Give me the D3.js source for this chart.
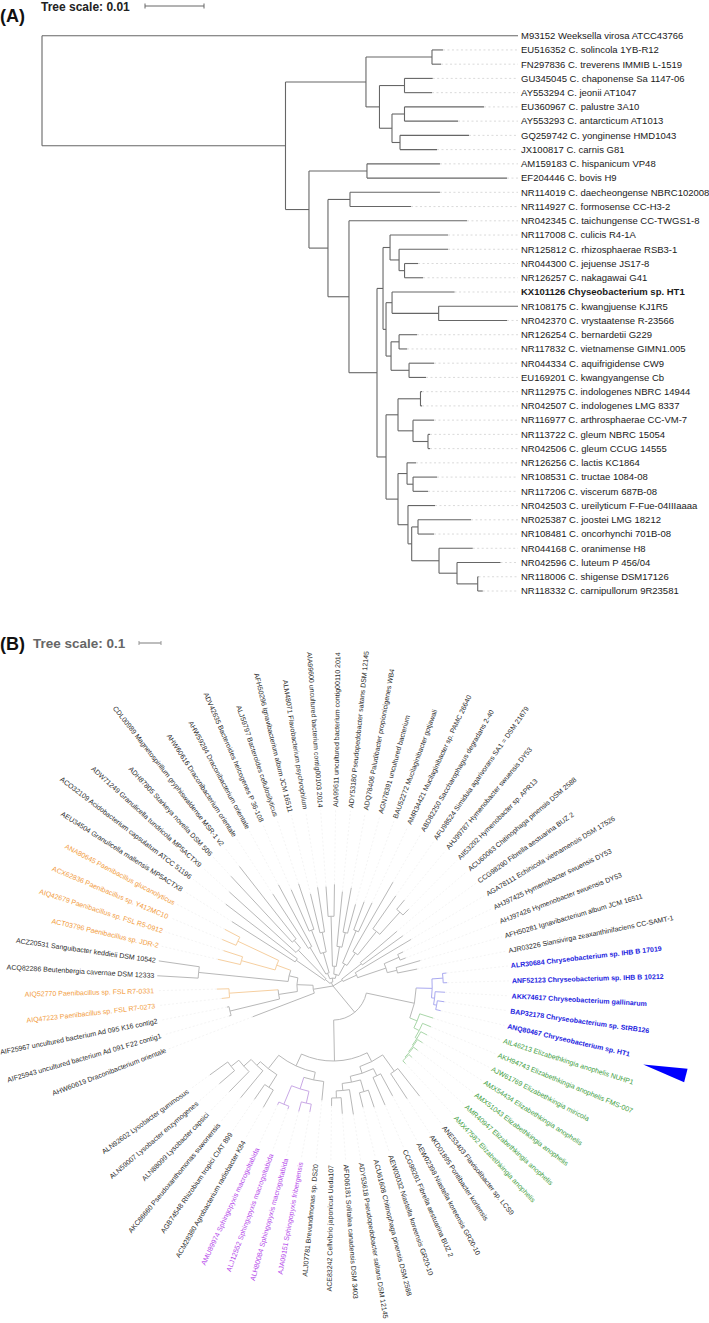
<!DOCTYPE html>
<html><head><meta charset="utf-8">
<script src="https://cdn.jsdelivr.net/npm/d3@7"></script>
<style>body{margin:0;background:#fff;} text{font-family:"Liberation Sans",Arial,sans-serif;}</style>
</head><body>
<svg id="c" width="709" height="1323"></svg>
<script>
// ---------------- DATA ----------------
// Panel A: 16S tree, branch lengths in substitutions/site
const newickA = `(M93152_Weeksella_virosa_ATCC43766:0.08068,
(((EU516352_C._solincola_1YB-R12:0.00186,FN297836_C._treverens_IMMIB_L-1519:0.00153):0.01119,
((GU345045_C._chaponense_Sa_1147-06:0.00478,AY553294_C._jeonii_AT1047:0.00466):0.00424,
((EU360967_C._palustre_3A10:0.01347,AY553293_C._antarcticum_AT1013:0.00907):0.00212,
(GQ259742_C._yonginense_HMD1043:0.01169,JX100817_C._carnis_G81:0.00627):0.00136):0.00212):0.00229):0.01364,
((AM159183_C._hispanicum_VP48:0.01237,EF204446_C._bovis_H9:0.02373):0.00983,
((NR114019_C._daecheongense_NBRC102008:0.01525,NR114927_C._formosense_CC-H3-2:0.01034):0.00373,
(NR042345_C._taichungense_CC-TWGS1-8:0.02,
(((NR117008_C._culicis_R4-1A:0.00983,(NR125812_C._rhizosphaerae_RSB3-1:0.0083,(NR044300_C._jejuense_JS17-8:0.00229,NR126257_C._nakagawai_G41:0.00314):0.00093):0.00153):0.00119,
((KX101126_Chyseobacterium_sp._HT1:0.01059,(NR108175_C._kwangjuense_KJ1R5:0.01346,NR042370_C._vrystaatense_R-23566:0.01159):0.0079):0.00102,
((NR126254_C._bernardetii_G229:0.00305,NR117832_C._vietnamense_GIMN1.005:0.00136):0.00136,
(NR044334_C._aquifrigidense_CW9:0.00424,EU169201_C._kwangyangense_Cb:0.00288):0.00305):0.00085):0.00051):0.00102,
(((NR112975_C._indologenes_NBRC_14944:0.00025,NR042507_C._indologenes_LMG_8337:0.00025):0.00381,
(NR116977_C._arthrosphaerae_CC-VM-7:0.00356,(NR113722_C._gleum_NBRC_15054:0.00034,NR042506_C._gleum_CCUG_14555:0.00034):0.00254):0.00254):0.00203,
((NR126256_C._lactis_KC1864:0.00153,(NR108531_C._tructae_1084-08:0.00407,NR117206_C._viscerum_687B-08:0.00254):0.00102):0.00153,
(NR042503_C._ureilyticum_F-Fue-04IIIaaaa:0.00458,
((NR025387_C._joostei_LMG_18212:0.00898,NR108481_C._oncorhynchi_701B-08:0.00271):0.00107,
(NR044168_C._oranimense_H8:0.00571,(NR042596_C._luteum_P_456/04:0.00737,(NR118006_C._shigense_DSM17126:0.00014,NR118332_C._carnipullorum_9R23581:0.00085):0.00351):0.00305):0.00463):0.00063):0.00169):0.00203):0.00153):0.00475):0.00356):0.00322):0.00398):0.04127);`;
const boldA = ["KX101126"];
const scaleA = 0.01;

// Panel B: protein tree, branch lengths in substitutions/site
const newickB = `((AHW60619_Draconibacterium_orientale:0.300,
(((AIF25943_uncultured_bacterium_Ad_091_F22_contig1:0.009,AIF25967_uncultured_bacterium_Ad_095_K16_contig2:0.009):0.232,
(AIQ47223_Paenibacillus_sp._FSL_R7-0273:0.036,AIQ52770_Paenibacillus_sp._FSL_R7-0331:0.055):0.223):0.086,
((ACQ82286_Beutenbergia_cavernae_DSM_12333:0.186,ACZ20531_Sanguibacter_keddieii_DSM_10542:0.186):0.409,
((ACT03796_Paenibacillus_sp._JDR-2:0.105,AIQ42679_Paenibacillus_sp._FSL_R5-0912:0.091):0.159,
(ACX62836_Paenibacillus_sp._Y412MC10:0.068,ANA80645_Paenibacillus_glucanolyticus:0.077):0.205):0.068):0.041):0.073):0.091,
(((AEU34504_Granulicella_mallensis_MP5ACTX8:0.341,ACO32109_Acidobacterium_capsulatum_ATCC_51196:0.409):0.159,
(ADW71249_Granulicella_tundricola_MP5ACTX9:0.409,(ADH87805_Starkeya_novella_DSM_506:0.409,CDL00989_Magnetospirillum_gryphiswaldense_MSR-1_v2:0.418):0.045):0.182):0.027,
(((AHW60616_Draconibacterium_orientale:0.295,AHW59284_Draconibacterium_orientale:0.318):0.141,
((ADV42635_Bacteroides_helcogenes_P_36-108:0.205,ALJ59797_Bacteroides_cellulosilyticus:0.218):0.114,
(AFH50296_Ignavibacterium_album_JCM_16511:0.182,ALM48071_Flavobacterium_psychrophilum:0.205):0.091):0.095):0.027,
(((AIA99600_uncultured_bacterium_contig00103_2014:0.136,AIA99611_uncultured_bacterium_contig00110_2014:0.145):0.227,
(ADY53180_Pseudopedobacter_saltans_DSM_12145:0.250,(ADQ78406_Paludibacter_propionicigenes_WB4:0.205,AGN78391_uncultured_bacterium:0.136):0.068):0.091):0.036,
((BAU52272_Mucilaginibacter_gotjawali:0.136,AMR34421_Mucilaginibacter_sp._PAMC_26640:0.145):0.159,
(ABD82250_Saccharophagus_degradans_2-40:0.364,(AFU98524_Simiduia_agarivorans_SA1_=_DSM_21679:0.182,
(AHJ99787_Hymenobacter_swuensis_DY53:0.055,AII53292_Hymenobacter_sp._APR13:0.036):0.136):0.136):0.068):0.059):0.018):0.018):0.018,
(((ACU60063_Chitinophaga_pinensis_DSM_2588:0.218,CCG98290_Fibrella_aestuarina_BUZ_2:0.227):0.114,
(AGA78111_Echinicola_vietnamensis_DSM_17526:0.295,((AHJ97425_Hymenobacter_swuensis_DY53:0.027,AHJ97426_Hymenobacter_swuensis_DY53:0.027):0.073,
(AFH50281_Ignavibacterium_album_JCM_16511:0.114,AJR03226_Siansivirga_zeaxanthinifaciens_CC-SAMT-1:0.091):0.045):0.136):0.068):0.050,
(((((ALR30684_Chryseobacterium_sp._IHB_B_17019:0.018,ANF52123_Chryseobacterium_sp._IHB_B_10212:0.018):0.050,
(AKK74617_Chryseobacterium_gallinarum:0.045,(BAP32178_Chryseobacterium_sp._StRB126:0.032,ANQ80467_Chryseobacterium_sp._HT1:0.023):0.014):0.014):0.073,
(AIL46213_Elizabethkingia_anophelis_NUHP1:0.064,(AKH94743_Elizabethkingia_anophelis_FMS-007:0.041,(AJW61769_Elizabethkingia_miricola:0.032,
(AMX54434_Elizabethkingia_anophelis:0.027,(AMX51043_Elizabethkingia_anophelis:0.023,(AMR40947_Elizabethkingia_anophelis:0.018,AMX47582_Elizabethkingia_anophelis:0.018):0.005):0.005):0.005):0.009):0.027):0.036):0.223,
((((ANE53403_Flavisolibacter_sp._LCS9:0.159,AKD01895_Pontibacter_korlensis:0.136):0.091,
((AEW02398_Niastella_koreensis_GR20-10:0.114,CCG98291_Fibrella_aestuarina_BUZ_2:0.136):0.036,
((AEW03032_Niastella_koreensis_GR20-10:0.082,ACU61608_Chitinophaga_pinensis_DSM_2588:0.068):0.055,
(ADY53618_Pseudopedobacter_saltans_DSM_12145:0.114,(AFD06181_Solitalea_canadensis_DSM_3403:0.073,ACE83242_Cellvibrio_japonicus_Ueda107:0.036):0.032):0.032):0.027):0.032):0.045,
((ALJ07781_Brevundimonas_sp._DS20:0.086,((AJA09151_Sphingopyxis_fribergensis:0.036,ALH80084_Sphingopyxis_macrogoltabida:0.045):0.055,
(ALJ12552_Sphingopyxis_macrogoltabida:0.014,AMU89974_Sphingopyxis_macrogoltabida:0.014):0.091):0.055):0.036,
((ACM28380_Agrobacterium_radiobacter_K84:0.091,AGB74548_Rhizobium_tropici_CIAT_899:0.082):0.068,
(AKC86660_Pseudoxanthomonas_suwonensis:0.159,(ALN88099_Lysobacter_capsici:0.127,(ALN59007_Lysobacter_enzymogenes:0.091,ALN92602_Lysobacter_gummosus:0.100):0.045):0.045):0.023):0.077):0.059):0.091):0.095):0.155);`;
const scaleB = 0.1;
const orangeB = ["AIQ47223","AIQ52770","ACT03796","AIQ42679","ACX62836","ANA80645"];
const blueB = ["ALR30684","ANF52123","AKK74617","BAP32178","ANQ80467"];
const greenB = ["AIL46213","AKH94743","AJW61769","AMX54434","AMX51043","AMR40947","AMX47582"];
const purpleB = ["AJA09151","ALH80084","ALJ12552","AMU89974"];
const markB = "ANQ80467";

// ---------------- HELPERS ----------------
function parseNewick(str){
  const s = str.replace(/\s+/g,''); let i=0;
  function node(){
    const n={};
    if(s[i]==='('){ i++; n.children=[node()]; while(s[i]===','){ i++; n.children.push(node()); } i++; }
    let name=''; while(i<s.length && !',():;'.includes(s[i])) name+=s[i++];
    n.name=name.replace(/_/g,' ');
    n.length=0;
    if(s[i]===':'){ i++; let num=''; while(i<s.length && !',();'.includes(s[i])) num+=s[i++]; n.length=+num; }
    return n;
  }
  return node();
}
const svg = d3.select('#c');

// ---------------- PANEL A ----------------
(function(){
  const g = svg.append('g');
  const root = d3.hierarchy(parseNewick(newickA));
  root.each(d=>{ d.dist = d.parent ? d.parent.dist + d.data.length : 0; });
  const leaves = root.leaves();
  const y = d3.scalePoint().domain(d3.range(leaves.length)).range([35.7, 591]);
  leaves.forEach((d,i)=> d.yy = y(i));
  root.eachAfter(d=>{ if(d.children) d.yy = (d.children[0].yy + d.children[d.children.length-1].yy)/2; });
  const x = d3.scaleLinear().domain([0, scaleA]).range([42, 101]);
  const labelX = 521;

  g.selectAll('line.ext').data(leaves.filter(d=> x(d.dist) < labelX-4)).join('line')
    .attr('x1', d=>x(d.dist)).attr('x2', labelX-3).attr('y1', d=>d.yy).attr('y2', d=>d.yy)
    .attr('stroke','#d0d0d0').attr('stroke-width',0.8).attr('stroke-dasharray','2,2.5');
  g.selectAll('line.h').data(root.descendants().filter(d=>d.parent)).join('line')
    .attr('x1', d=>x(d.parent.dist)).attr('x2', d=>Math.min(x(d.dist), labelX-3)).attr('y1', d=>d.yy).attr('y2', d=>d.yy)
    .attr('stroke','#666').attr('stroke-width',1.1);
  g.selectAll('line.v').data(root.descendants().filter(d=>d.children)).join('line')
    .attr('x1', d=>x(d.dist)).attr('x2', d=>x(d.dist))
    .attr('y1', d=>d.children[0].yy).attr('y2', d=>d.children[d.children.length-1].yy)
    .attr('stroke','#666').attr('stroke-width',1.1);
  g.selectAll('text.lab').data(leaves).join('text')
    .attr('x', labelX).attr('y', d=>d.yy).attr('dy','0.35em')
    .attr('font-size', 9.5).attr('fill','#1a1a1a')
    .attr('font-weight', d=> boldA.includes(d.data.name.split(' ')[0]) ? 'bold' : 'normal')
    .text(d=>d.data.name);
  g.append('text').attr('x',0).attr('y',22).attr('font-size',18).attr('font-weight','bold').attr('fill','#111').text('(A)');
  g.append('text').attr('x',41).attr('y',10.5).attr('font-size',12).attr('font-weight','bold').attr('fill','#222').text('Tree scale: ' + scaleA);
  const sx0 = 145, sx1 = sx0 + (x(scaleA) - x(0)), sy = 6;
  g.append('line').attr('x1',sx0).attr('x2',sx1).attr('y1',sy).attr('y2',sy).attr('stroke','#666');
  [sx0,sx1].forEach(v=> g.append('line').attr('x1',v).attr('x2',v).attr('y1',sy-2.5).attr('y2',sy+2.5).attr('stroke','#666'));
})();

// ---------------- PANEL B ----------------
(function(){
  const g = svg.append('g');
  const cx = 333, cy = 986, labelR = 179;
  const root = d3.hierarchy(parseNewick(newickB));
  root.each(d=>{ d.dist = d.parent ? d.parent.dist + d.data.length : 0; });
  const leaves = root.leaves();
  const ang = d3.scaleLinear().domain([0, leaves.length]).range([156.6, 506.6]);
  leaves.forEach((d,i)=> d.ang = ang(i+0.5));
  root.eachAfter(d=>{ if(d.children) d.ang = (d.children[0].ang + d.children[d.children.length-1].ang)/2; });
  const r = d3.scaleLinear().domain([0, scaleB]).range([0, 22]);
  const rad = a => a*Math.PI/180;
  const acc = d => d.data.name.split(' ')[0];
  const groups = [
    {ids:orangeB, label:'#f29b3c', branch:'#f6cfa0', bold:false},
    {ids:blueB, label:'#2222e0', branch:'#a9a9f0', bold:true},
    {ids:greenB, label:'#3e9e3e', branch:'#a9d6a9', bold:false},
    {ids:purpleB, label:'#b447ea', branch:'#c9a9e6', bold:false}
  ];
  const grpOf = d => { const ls = d.leaves().map(acc); return groups.find(gr => ls.every(a=>gr.ids.includes(a))); };
  const bcol = d => { const gr = grpOf(d); return gr ? gr.branch : '#b8b8b8'; };
  const P = (rr,a) => [cx + rr*Math.cos(rad(a)), cy + rr*Math.sin(rad(a))];

  g.selectAll('line.ext').data(leaves.filter(d=> r(d.dist) < labelR-4)).join('line')
    .each(function(d){ const p0=P(r(d.dist),d.ang), p1=P(labelR-3,d.ang);
      d3.select(this).attr('x1',p0[0]).attr('y1',p0[1]).attr('x2',p1[0]).attr('y2',p1[1]); })
    .attr('stroke','#efefef').attr('stroke-width',0.7).attr('stroke-dasharray','2,2');
  g.selectAll('line.rb').data(root.descendants().filter(d=>d.parent)).join('line')
    .each(function(d){ const p0=P(r(d.parent.dist),d.ang), p1=P(Math.min(r(d.dist),labelR-3),d.ang);
      d3.select(this).attr('x1',p0[0]).attr('y1',p0[1]).attr('x2',p1[0]).attr('y2',p1[1]); })
    .attr('stroke', d=>bcol(d)).attr('stroke-width',1);
  g.selectAll('path.arc').data(root.descendants().filter(d=>d.children && d.parent)).join('path')
    .attr('d', d=>{ const p=d3.path(); const a0=d.children[0].ang, a1=d.children[d.children.length-1].ang;
      p.arc(cx,cy,r(d.dist),rad(a0),rad(a1)); return p.toString(); })
    .attr('fill','none').attr('stroke', d=>bcol(d)).attr('stroke-width',1);
  g.selectAll('text.lab').data(leaves).join('text')
    .attr('transform', d=>{ const a=((d.ang%360)+360)%360; const flip = a>90 && a<270;
      return `translate(${cx},${cy}) rotate(${d.ang}) translate(${labelR},0)` + (flip?' rotate(180)':''); })
    .attr('text-anchor', d=>{ const a=((d.ang%360)+360)%360; return (a>90 && a<270)?'end':'start'; })
    .attr('dy','0.35em').attr('font-size',7)
    .attr('fill', d=>{ const gr=groups.find(gr=>gr.ids.includes(acc(d))); return gr?gr.label:'#2a2a2a'; })
    .attr('font-weight', d=>{ const gr=groups.find(gr=>gr.ids.includes(acc(d))); return gr&&gr.bold?'bold':'normal'; })
    .text(d=>d.data.name);
  const mk = leaves.find(d=>acc(d)===markB);
  const ma = mk.ang + 1.3;
  const tip = P(320, ma), bc = P(364, ma);
  const ux = Math.cos(rad(ma)), uy = Math.sin(rad(ma));
  g.append('path').attr('d', `M${tip[0]},${tip[1]}L${bc[0]-uy*7},${bc[1]+ux*7}L${bc[0]+uy*7},${bc[1]-ux*7}Z`).attr('fill','#0000ff');
  g.append('text').attr('x',0).attr('y',650).attr('font-size',18).attr('font-weight','bold').attr('fill','#111').text('(B)');
  g.append('text').attr('x',33).attr('y',647.5).attr('font-size',13.5).attr('font-weight','bold').attr('fill','#666').text('Tree scale: ' + scaleB);
  const sx0 = 139, sx1 = sx0 + (r(scaleB)-r(0)), sy = 643;
  g.append('line').attr('x1',sx0).attr('x2',sx1).attr('y1',sy).attr('y2',sy).attr('stroke','#999').attr('stroke-width',1.3);
  [sx0,sx1].forEach(v=> g.append('line').attr('x1',v).attr('x2',v).attr('y1',sy-2).attr('y2',sy+2).attr('stroke','#999'));
})();
</script>
</body></html>
